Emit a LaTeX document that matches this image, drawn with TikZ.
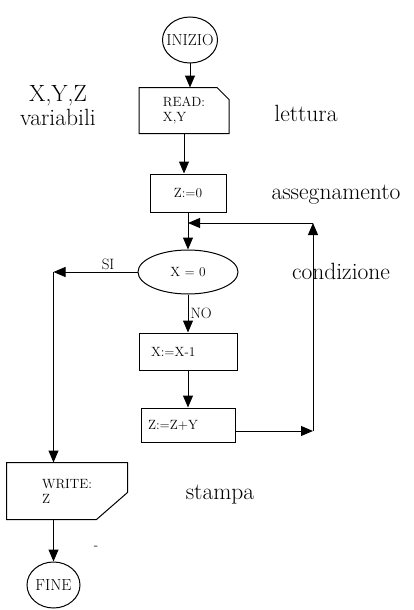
\documentclass[tikz,border=0pt]{standalone}
\usepackage{amsmath}
\usepackage{tikz}
\usetikzlibrary{arrows.meta,positioning,shapes,calc}
\newcommand{\boxfont}{\fontsize{13.4}{15}\selectfont}
\newcommand{\termfont}{\fontsize{16}{18}\selectfont}
\newcommand{\notefont}{\fontsize{23.5}{24}\selectfont}

\begin{document}
\begin{tikzpicture}[x = 1pt, y = -1pt, line width = 1pt,
    arr/.style = {-{Triangle[length = 12pt, width = 10pt]}},
    flowbox/.style = {draw, rectangle, font = \boxfont, inner sep = 0pt},
    testbox/.style = {draw, ellipse, font = \boxfont, inner sep = 0pt},
    terminal/.style = {draw, ellipse, font = \termfont, inner sep = 0pt},
    note/.style = {font = \notefont, inner sep = 0pt},
    tag/.style = {font = \fontsize{15}{17}\selectfont, inner sep = 2pt}]
    \useasboundingbox (0,0) rectangle (413,610);
    \node[terminal, minimum width = 55pt, minimum height = 46pt] (inizio) at (190, 40) {\makebox[0pt]{INIZIO}};
    \node[flowbox, draw = none, minimum width = 89pt, minimum height = 45pt, align = left] (read) at (184, 110.5) {READ:\\X,Y};
    \node[flowbox, minimum width = 76pt, minimum height = 38pt] (zero) at (188, 193) {Z:=0};
    \node[testbox, minimum width = 100pt, minimum height = 44pt] (cond) at (188, 272) {X = 0};
    \node[flowbox, minimum height = 37pt, text width = 74pt, inner xsep = 12pt, align = left] (dec) at (188, 351.5) {X:=X-1};
    \node[flowbox, minimum height = 34pt, text width = 80pt, inner xsep = 7pt, align = left] (add) at (188, 425) {Z:=Z+Y};
    \node[flowbox, draw = none, minimum width = 120pt, minimum height = 56pt, align = left] (write) at (67, 491) {WRITE:\\Z};
    \node[terminal, minimum width = 53pt, minimum height = 46pt] (fine) at (53.5, 585) {\makebox[0pt]{FINE}};
    \draw (read.south west) -- (read.north west) -- ([xshift = -12pt]read.north east) -- ([yshift = -12pt]read.north east) -- (read.south east) -- cycle;
    \draw (write.north west) -- (write.north east) -- ([yshift = 27pt]write.south east) -- ([xshift = -31pt]write.south east) -- (write.south west) -- cycle;
    \coordinate (turn) at (313, 431);
    \coordinate (back) at (313, 223);
    \coordinate (merge) at (zero |- back);
    \coordinate (split) at (cond.west -| fine);
    \draw[arr] (inizio) -- (inizio |- read.north);
    \draw[arr] (read.south) -- (read.south |- zero.north);
    \draw[arr] (zero) -- (cond);
    \draw[arr] (cond) -- node[tag, right] {NO} (dec);
    \draw[arr] (dec) -- (add);
    \draw[arr] (add.east |- turn) -- (turn);
    \draw[arr] (turn) -- (back);
    \draw[arr] (back) -- (merge);
    \draw[arr] (cond.west) -- node[tag, above, pos = .35] {SI} (split);
    \draw[arr] (split) -- (split |- write.north);
    \draw[arr] (write.south -| fine) -- (fine);
    \node[note, align = center] (vars) at (58, 106) {X,Y,Z\\variabili};
    \node[note] (lettura) at (306, 113) {lettura};
    \node[note] (assegn) at (336, 195) {assegnamento};
    \node[note] (condiz) at (341, 271) {condizione};
    \node[note] (stampa) at (220, 495) {stampa};
    \node[font = \boxfont] (dash) at (96, 548) {-};
\end{tikzpicture}
\end{document}
